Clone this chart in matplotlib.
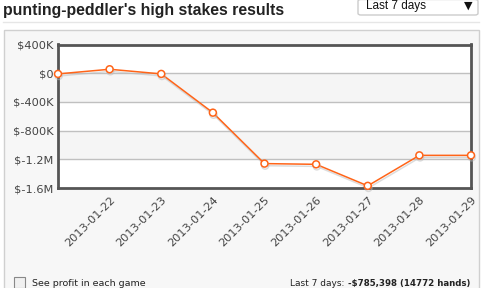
import matplotlib
matplotlib.use("Agg")
import matplotlib.pyplot as plt
from matplotlib.patches import Rectangle, FancyBboxPatch
import matplotlib.patheffects as pe

# ---- data ----
dates = ["2013-01-21", "2013-01-22", "2013-01-23", "2013-01-24", "2013-01-25",
         "2013-01-26", "2013-01-27", "2013-01-28", "2013-01-29"]
profit = [-10000, 55000, -10000, -550000, -1260000, -1270000, -1570000, -1145000, -1145000]
ytick_vals = [400000, 0, -400000, -800000, -1200000, -1600000]
ytick_labels = ["$400K", "$0", "$-400K", "$-800K", "$-1.2M", "$-1.6M"]
xtick_labels = dates[1:]

title = "punting-peddler's high stakes results"
dropdown = "Last 7 days"
checkbox_text = "See profit in each game"
summary_prefix = "Last 7 days: "
summary_bold = "-$785,398 (14772 hands)"

W, H = 482, 288
fig = plt.figure(figsize=(W / 100, H / 100), dpi=100)
fig.patch.set_facecolor("white")

def fx(px):
    return px / W

def fy(py):
    return 1 - py / H

# panel background
fig.patches.append(Rectangle((fx(3.5), fy(300)), fx(475), (300 - 29.5) / H,
                             transform=fig.transFigure, facecolor="#f7f7f7",
                             edgecolor="#d0d0d0", linewidth=1, zorder=-10))
# separator under title
fig.add_artist(plt.Line2D([fx(3), fx(479)], [fy(22), fy(22)], color="#e6e6e6",
                          linewidth=1, transform=fig.transFigure, zorder=-5))

# title
fig.text(fx(3), fy(10.5), title, fontsize=11.45, fontweight="bold", color="#222222",
         family="Liberation Sans", va="center", ha="left")

# dropdown
fig.patches.append(FancyBboxPatch((fx(358), fy(15)), fx(120), 15.5 / H,
                                  boxstyle="round,pad=0,rounding_size=0.006",
                                  transform=fig.transFigure, facecolor="white",
                                  edgecolor="#cccccc", linewidth=1, zorder=-5))
fig.text(fx(366), fy(6), dropdown, fontsize=8.5, color="#111111",
         family="Liberation Sans", va="center", ha="left")
fig.text(fx(468), fy(6), "\u25bc", fontsize=8, color="#111111",
         family="DejaVu Sans", va="center", ha="center")

# axes
ax = fig.add_axes([fx(58), fy(188), 413 / W, 143.5 / H])
ax.set_facecolor("white")
n = len(profit)
xs = list(range(n))
ax.set_xlim(0, n - 1)
ax.set_ylim(-1600000, 400000)

# alternating bands
for i in range(len(ytick_vals) - 1):
    if i % 2 == 1:
        ax.axhspan(ytick_vals[i + 1], ytick_vals[i], color="#f5f5f5", zorder=0, lw=0)
for v in ytick_vals[1:-1]:
    ax.axhline(v, color="#c0c0c0", linewidth=1, zorder=1)

ax.plot(xs, profit, color="#ff6418", linewidth=1.1, zorder=3,
        marker="o", markersize=5, markerfacecolor="white",
        markeredgecolor="#ff6418", markeredgewidth=1.1, clip_on=False,
        path_effects=[pe.SimpleLineShadow(offset=(0.5, -1.5), shadow_color="#bbbbbb", alpha=0.5),
                      pe.Normal()])

ax.set_yticks(ytick_vals)
ax.set_yticklabels(ytick_labels, fontsize=8.2, color="#444444", family="DejaVu Sans")
ax.set_xticks(xs[1:])
ax.set_xticklabels(xtick_labels, rotation=45, ha="right", rotation_mode="anchor",
                   fontsize=8.2, color="#444444", family="DejaVu Sans")
ax.tick_params(axis="both", length=0, pad=3)
ax.tick_params(axis="x", pad=5)
for s in ax.spines.values():
    s.set_color("#555555")
    s.set_linewidth(2)

# bottom row
fig.patches.append(Rectangle((fx(14), fy(288)), fx(11), 11 / H,
                             transform=fig.transFigure, facecolor="#f0f0f0",
                             edgecolor="#888888", linewidth=0.8, zorder=2))
fs_b = 6.8
fig.text(fx(32), fy(283.5), checkbox_text, fontsize=fs_b, color="#222222",
         family="DejaVu Sans", va="center", ha="left")
t2 = fig.text(fx(470), fy(283.5), summary_bold, fontsize=6.2, color="#222222",
              family="DejaVu Sans", fontweight="bold", va="center", ha="right")
fig.canvas.draw()
bb = t2.get_window_extent()
fig.text(bb.x0 / W, fy(283.5), summary_prefix, fontsize=6.5, color="#222222",
         family="DejaVu Sans", va="center", ha="right")

fig.savefig("out.png", dpi=100, facecolor="white")
